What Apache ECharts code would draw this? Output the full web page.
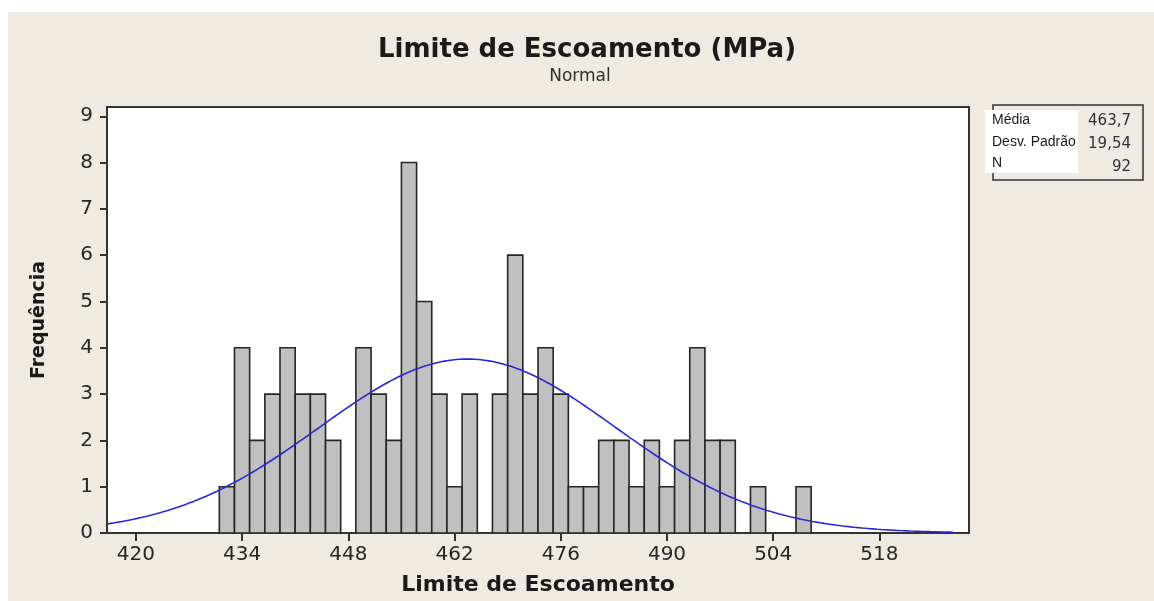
<!DOCTYPE html>
<html>
<head>
<meta charset="utf-8">
<title>Limite de Escoamento (MPa)</title>
<script src="https://cdn.jsdelivr.net/npm/echarts@6/dist/echarts.min.js"></script>
<style>
  html, body { margin: 0; padding: 0; background: #ffffff; }
  #panel { position: absolute; left: 8px; top: 12px; right: 0; bottom: 0; background: #efebe2; }
  #chart { position: absolute; left: 0; top: 0; width: 1154px; height: 601px; }
</style>
</head>
<body>
<div id="panel"></div>
<div id="chart"></div>
<script>
// Histogram bins (centres, width 2 MPa) and their frequencies
const binCenters = [432, 434, 436, 438, 440, 442, 444, 446, 448, 450, 452, 454, 456, 458, 460,
                    462, 464, 466, 468, 470, 472, 474, 476, 478, 480, 482, 484, 486, 488, 490,
                    492, 494, 496, 498, 500, 502, 504, 506, 508];
const binCounts  = [1, 4, 2, 3, 4, 3, 3, 2, 0, 4, 3, 2, 8, 5, 3,
                    1, 3, 0, 3, 6, 3, 4, 3, 1, 1, 2, 2, 1, 2, 1,
                    2, 4, 2, 2, 0, 1, 0, 0, 1];
const binWidth = 2;

// Axis tick labels
const xTicks = [420, 434, 448, 462, 476, 490, 504, 518];
const yTicks = [0, 1, 2, 3, 4, 5, 6, 7, 8, 9];

// Summary statistics of the sample
const statMean = 463.7;
const statSd = 19.54;
const statN = 92;

const xMin = 416.2, xMax = 529.8;

// Fitted normal curve, scaled to counts per bin
const curveEnd = 528;
const curve = [];
for (let x = xMin; x <= curveEnd + 1e-9; x += 0.5) {
  const z = (x - statMean) / statSd;
  const y = statN * binWidth * Math.exp(-0.5 * z * z) / (statSd * Math.sqrt(2 * Math.PI));
  curve.push([x, y]);
}

const fmt = v => v.toFixed(1).replace('.', ',');
const fmt2 = v => v.toFixed(2).replace('.', ',');

const FONT = 'DejaVu Sans';
const chart = echarts.init(document.getElementById('chart'), null, { renderer: 'canvas' });

chart.setOption({
  backgroundColor: 'transparent',
  animation: false,
  grid: {
    left: 107, top: 107, width: 862, height: 430,
    show: true, backgroundColor: '#ffffff', borderColor: '#333333', borderWidth: 2
  },
  xAxis: {
    type: 'value', min: xMin, max: xMax,
    axisLine: { show: false },
    splitLine: { show: false },
    axisTick: { show: true, customValues: xTicks, length: 8, lineStyle: { color: '#333333', width: 2 } },
    axisLabel: { customValues: xTicks, fontFamily: FONT, fontSize: 20, color: '#262626', margin: 12 },
    name: 'Limite de Escoamento', nameLocation: 'middle', nameGap: 41,
    nameTextStyle: { fontFamily: FONT, fontWeight: 'bold', fontSize: 22, color: '#1a1a1a' }
  },
  yAxis: {
    type: 'value', min: 0, max: 9.2,
    axisLine: { show: false },
    splitLine: { show: false },
    axisTick: { show: true, customValues: yTicks, length: 7, lineStyle: { color: '#333333', width: 2 } },
    axisLabel: { customValues: yTicks, fontFamily: FONT, fontSize: 20, color: '#262626', margin: 14 },
    name: 'Frequência', nameLocation: 'middle', nameGap: 58, nameRotate: 90,
    nameTextStyle: { fontFamily: FONT, fontWeight: 'bold', fontSize: 19, color: '#1a1a1a' }
  },
  graphic: [
    { type: 'text', x: 587, y: 50, style: { text: 'Limite de Escoamento (MPa)', font: 'bold 26px "DejaVu Sans"', fill: '#1a1a1a', textAlign: 'center', textVerticalAlign: 'middle' } },
    { type: 'text', x: 580, y: 77, style: { text: 'Normal', font: '17px "DejaVu Sans"', fill: '#2e2e2e', textAlign: 'center', textVerticalAlign: 'middle' } },
    { type: 'rect', shape: { x: 993, y: 105, width: 150, height: 75 }, style: { fill: '#efebe2', stroke: '#333333', lineWidth: 1.5 } },
    { type: 'rect', shape: { x: 985, y: 110, width: 93, height: 63 }, style: { fill: '#ffffff' } },
    { type: 'text', x: 992, y: 120, style: { text: 'Média', font: '14px "Liberation Sans"', fill: '#1a1a1a', textVerticalAlign: 'middle' } },
    { type: 'text', x: 992, y: 142, style: { text: 'Desv. Padrão', font: '14px "Liberation Sans"', fill: '#1a1a1a', textVerticalAlign: 'middle' } },
    { type: 'text', x: 992, y: 163, style: { text: 'N', font: '14px "Liberation Sans"', fill: '#1a1a1a', textVerticalAlign: 'middle' } },
    { type: 'text', x: 1131, y: 121, style: { text: fmt(statMean), font: '15px "DejaVu Sans"', fill: '#2e2f3a', textAlign: 'right', textVerticalAlign: 'middle' } },
    { type: 'text', x: 1131, y: 144, style: { text: fmt2(statSd), font: '15px "DejaVu Sans"', fill: '#2e2f3a', textAlign: 'right', textVerticalAlign: 'middle' } },
    { type: 'text', x: 1131, y: 167, style: { text: String(statN), font: '15px "DejaVu Sans"', fill: '#2e2f3a', textAlign: 'right', textVerticalAlign: 'middle' } }
  ],
  series: [
    {
      type: 'custom',
      clip: true,
      data: binCenters.map((c, i) => [c, binCounts[i]]),
      renderItem: function (params, api) {
        const c = api.value(0), h = api.value(1);
        if (!h) return null;
        const p0 = api.coord([c - binWidth / 2, h]);
        const p1 = api.coord([c + binWidth / 2, 0]);
        return {
          type: 'rect',
          shape: { x: p0[0], y: p0[1], width: p1[0] - p0[0], height: p1[1] - p0[1] },
          style: { fill: '#c0c0c0', stroke: '#262626', lineWidth: 1.6 }
        };
      },
      z: 2
    },
    {
      type: 'line',
      data: curve,
      showSymbol: false,
      smooth: false,
      clip: true,
      lineStyle: { color: '#2828d0', width: 1.6 },
      z: 3
    }
  ]
});
</script>
</body>
</html>
